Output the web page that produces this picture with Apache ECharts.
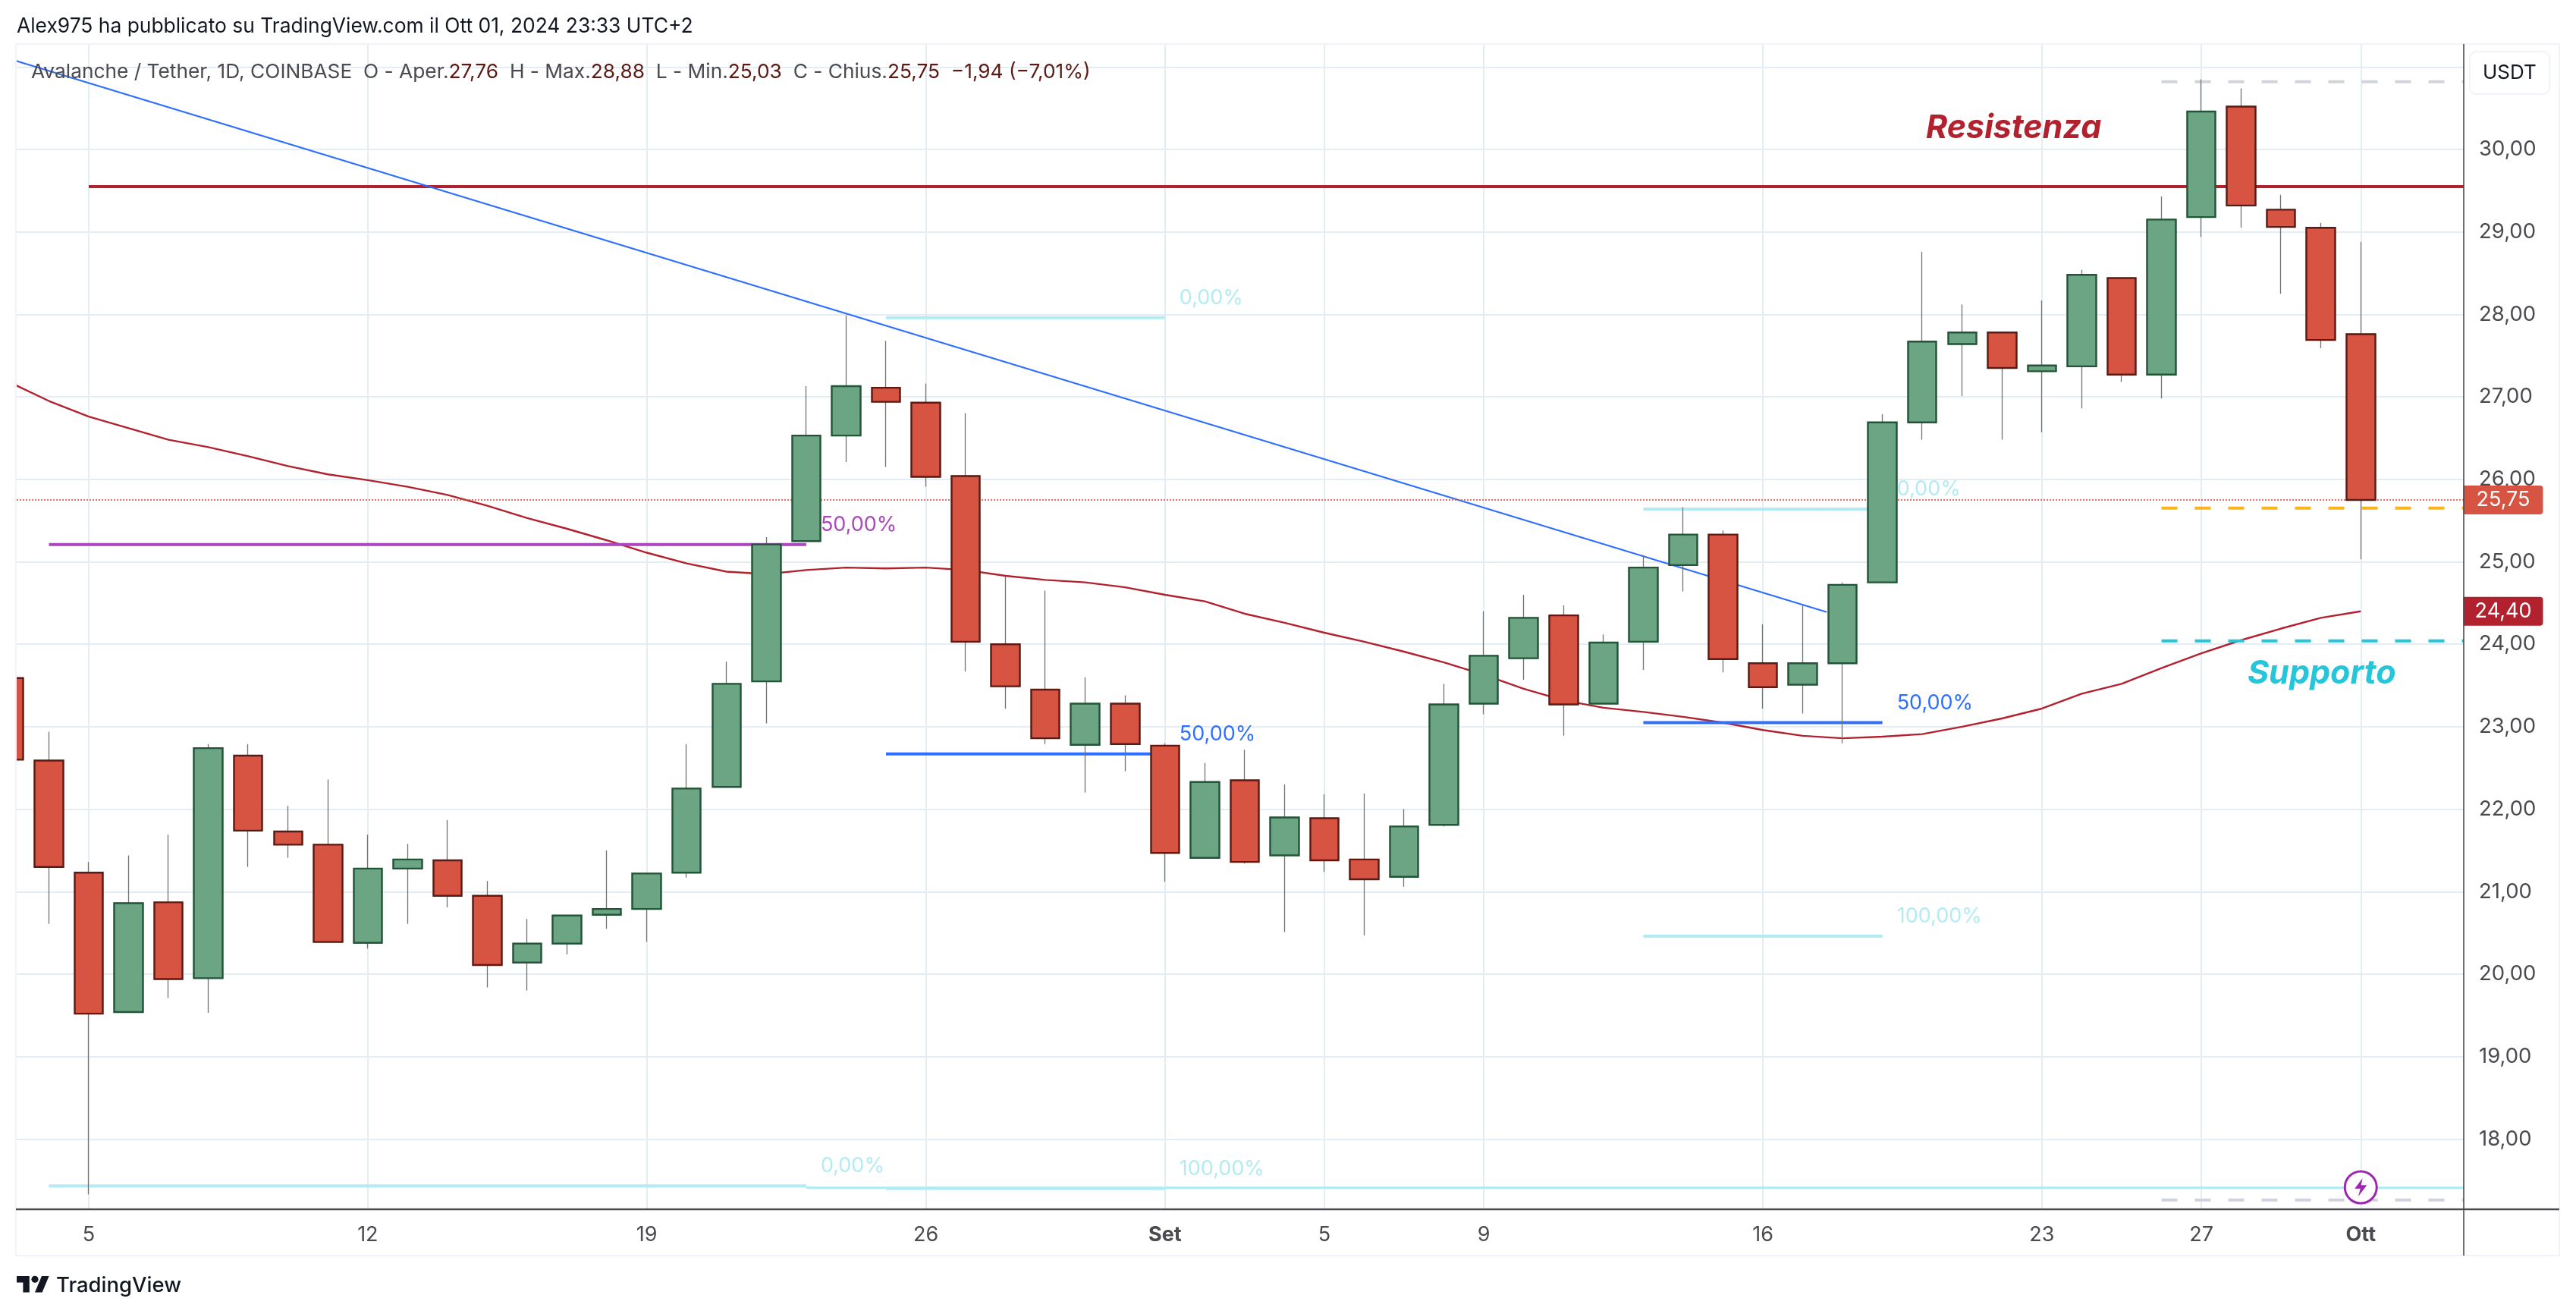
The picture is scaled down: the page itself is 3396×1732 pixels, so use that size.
<!DOCTYPE html>
<html><head><meta charset="utf-8">
<style>html,body{margin:0;padding:0;background:#fff}#c{width:3396px;height:1732px}</style>
<script src="https://cdn.jsdelivr.net/npm/echarts@6/dist/echarts.min.js"></script>
</head><body><div id="c"></div>
<script>
const dates=['2024-08-03','2024-08-04','2024-08-05','2024-08-06','2024-08-07','2024-08-08','2024-08-09','2024-08-10','2024-08-11','2024-08-12','2024-08-13','2024-08-14','2024-08-15','2024-08-16','2024-08-17','2024-08-18','2024-08-19','2024-08-20','2024-08-21','2024-08-22','2024-08-23','2024-08-24','2024-08-25','2024-08-26','2024-08-27','2024-08-28','2024-08-29','2024-08-30','2024-08-31','2024-09-01','2024-09-02','2024-09-03','2024-09-04','2024-09-05','2024-09-06','2024-09-07','2024-09-08','2024-09-09','2024-09-10','2024-09-11','2024-09-12','2024-09-13','2024-09-14','2024-09-15','2024-09-16','2024-09-17','2024-09-18','2024-09-19','2024-09-20','2024-09-21','2024-09-22','2024-09-23','2024-09-24','2024-09-25','2024-09-26','2024-09-27','2024-09-28','2024-09-29','2024-09-30','2024-10-01'];
const opens=[23.59,22.59,21.23,19.54,20.87,19.95,22.65,21.73,21.57,20.38,21.28,21.38,20.95,20.14,20.37,20.72,20.79,21.23,22.27,23.55,25.25,26.53,27.11,26.93,26.04,24.00,23.45,22.78,23.28,22.77,21.41,22.35,21.44,21.89,21.39,21.18,21.81,23.28,23.83,24.35,23.28,24.03,24.96,25.33,23.77,23.51,23.77,24.75,26.69,27.64,27.78,27.31,27.37,28.44,27.27,29.18,30.52,29.27,29.05,27.76];
const closes=[22.60,21.30,19.52,20.86,19.94,22.74,21.74,21.57,20.39,21.28,21.39,20.95,20.11,20.37,20.71,20.79,21.22,22.25,23.52,25.21,26.53,27.13,26.94,26.03,24.03,23.49,22.86,23.28,22.79,21.47,22.33,21.36,21.90,21.38,21.15,21.79,23.27,23.86,24.32,23.27,24.02,24.93,25.33,23.82,23.48,23.77,24.72,26.69,27.67,27.78,27.35,27.38,28.48,27.27,29.15,30.46,29.32,29.06,27.69,25.75];
const lows=[22.30,20.61,17.33,19.54,19.71,19.53,21.30,21.41,20.39,20.31,20.61,20.81,19.84,19.80,20.24,20.55,20.39,21.17,22.27,23.04,25.25,26.21,26.15,25.91,23.67,23.22,22.79,22.20,22.46,21.12,21.41,21.34,20.51,21.24,20.47,21.06,21.79,23.15,23.57,22.89,23.28,23.69,24.64,23.66,23.22,23.16,22.80,24.75,26.48,27.01,26.48,26.57,26.86,27.18,26.98,28.94,29.05,28.25,27.59,25.03];
const highs=[24.00,22.94,21.36,21.44,21.69,22.79,22.79,22.04,22.36,21.69,21.58,21.87,21.13,20.67,20.71,21.50,21.22,22.79,23.79,25.30,27.13,27.99,27.68,27.16,26.80,24.82,24.65,23.60,23.38,22.80,22.56,22.72,22.30,22.18,22.19,22.00,23.52,24.40,24.60,24.47,24.12,25.08,25.66,25.38,24.24,24.47,24.75,26.79,28.76,28.12,27.79,28.17,28.54,28.44,29.43,30.85,30.74,29.45,29.11,28.88];
const maValues=[27.18,26.95,26.76,26.62,26.48,26.39,26.28,26.16,26.06,25.99,25.91,25.81,25.68,25.53,25.40,25.26,25.11,24.98,24.88,24.85,24.90,24.93,24.92,24.93,24.90,24.83,24.78,24.75,24.69,24.60,24.52,24.37,24.26,24.14,24.03,23.91,23.78,23.63,23.46,23.32,23.23,23.18,23.12,23.05,22.96,22.89,22.86,22.88,22.91,23.00,23.10,23.22,23.40,23.52,23.71,23.89,24.05,24.19,24.32,24.40];
const tickDates=['2024-08-05','2024-08-12','2024-08-19','2024-08-26','2024-09-01','2024-09-05','2024-09-09','2024-09-16','2024-09-23','2024-09-27','2024-10-01'];
const tickLabels=['5','12','19','26','Set','5','9','16','23','27','Ott'];
const boldLabels=['Set','Ott'];
const priceGrid=[18,19,20,21,22,23,24,25,26,27,28,29,30,31];
const priceLabels=[18,19,20,21,22,23,24,25,26,27,28,29,30];
const xStart='2024-08-03T04:36:00Z', xEnd='2024-10-03T14:00:00Z';
const yMin=17.148, yMax=31.274;
const trendDates=['2024-08-03T00:00:00Z','2024-09-17T14:24:00Z'];
const trendPrices=[31.10,24.39];
const resistance={from:'2024-08-05',price:29.55};
const fibFrom=['2024-08-04','2024-08-04','2024-08-25','2024-08-25','2024-08-25','2024-09-13','2024-09-13','2024-09-13'];
const fibTo=['2024-08-23','2024-08-23','2024-09-01','2024-09-01','2024-09-01','2024-09-19','2024-09-19','2024-09-19'];
const fibPrice=[17.43,25.21,27.96,22.67,17.40,25.64,23.05,20.46];
const fibText=['0,00%','50,00%','0,00%','50,00%','100,00%','0,00%','50,00%','100,00%'];
const baseline={from:'2024-08-23',price:17.41};
const dashedFrom='2024-09-26';
const dashedPrices=[30.82,25.65,24.04,17.26];
const lastPrice=25.75, maLast=24.40, maLastDate='2024-10-01';
const notes=[{date:'2024-09-22T07:00:00Z',price:30.26,text:'Resistenza'},{date:'2024-09-30T00:30:00Z',price:23.64,text:'Supporto'}];
const alertPoint={date:'2024-10-01',price:17.415};

const FONT='Inter';
const T=s=>Date.parse(s.length===10?s+'T00:00:00Z':s);
const UP='#6ba583',DOWN='#d75442',UPB='#225437',DOWNB='#5b1a13',WICK='#737375',MA='#b2222e',GRID='#e3edf3',TXT='#4a4a50';
const TEAL='#b2ebf2',BLUE='#2f6fff',PURPLE='#ab47bc',CYAN='#26c6da';
const fibColor=[TEAL,PURPLE,TEAL,BLUE,TEAL,TEAL,BLUE,TEAL];
const dashColor=['#d1d4dc','#f9b51e',CYAN,'#d1d4dc'];
const tickMs=tickDates.map(T);
const wickData=dates.map((d,i)=>[T(d),opens[i],closes[i],lows[i],highs[i]]);
const bodyData=dates.map((d,i)=>[T(d),opens[i],closes[i],Math.min(opens[i],closes[i]),Math.max(opens[i],closes[i])]);
const plain=(name,data,color,width,z,extra)=>Object.assign({name,type:'line',data,symbol:'none',silent:true,animation:false,z,lineStyle:{color,width}},extra||{});
const badge=(text,bg)=>({show:true,formatter:()=>text,color:'#fff',backgroundColor:bg,fontFamily:FONT,fontSize:27,width:105,height:38,lineHeight:38,align:'center',verticalAlign:'middle',distance:0,offset:[52,0],borderRadius:[0,4,4,0]});
const money=v=>v.toFixed(2).replace('.',',');
const series=[];
series.push(plain('resistance',[[T(resistance.from),resistance.price],[T(xEnd),resistance.price]],MA,4,2));
series.push(plain('trend',trendDates.map((d,i)=>[T(d),trendPrices[i]]),'#2f6fff',2.2,2));
series.push(plain('ma',dates.map((d,i)=>[T(d),maValues[i]]),MA,2.4,2));
series.push(plain('base',[[T(baseline.from),baseline.price],[T(xEnd),baseline.price]],TEAL,3,2));
fibText.forEach((txt,i)=>{
  series.push(plain('fib'+i,[[T(fibFrom[i]),fibPrice[i]],[T(fibTo[i]),fibPrice[i]]],fibColor[i],4,2,{
    endLabel:{show:true,formatter:()=>txt,color:fibColor[i],fontFamily:FONT,fontSize:27,distance:12,offset:[7,-26]}}));
});
dashedPrices.forEach((p,i)=>series.push(plain('dash'+i,[[T(dashedFrom),p],[T(xEnd),p]],dashColor[i],4,2,{lineStyle:{color:dashColor[i],width:4,type:[21,23]}})));
series.push(plain('last',[[T(xStart),lastPrice],[T(xEnd),lastPrice]],DOWN,1.6,2,{lineStyle:{color:DOWN,width:1.6,type:[2,2]},endLabel:badge(money(lastPrice),DOWN)}));
series.push(plain('maLabel',[[T(maLastDate),maLast],[T(xEnd),maLast]],MA,1,2,{lineStyle:{color:MA,width:1,opacity:0},endLabel:badge(money(maLast),MA)}));
series.push({name:'wicks',type:'candlestick',clip:true,data:wickData,encode:{x:0,y:[1,2,3,4]},barWidth:38,animation:false,silent:true,z:3,itemStyle:{color:UP,color0:DOWN,borderColor:WICK,borderColor0:WICK,borderWidth:1.3}});
series.push({name:'bodies',type:'candlestick',clip:true,data:bodyData,encode:{x:0,y:[1,2,3,4]},barWidth:38,animation:false,silent:true,z:4,itemStyle:{color:UP,color0:DOWN,borderColor:UPB,borderColor0:DOWNB,borderWidth:2.4}});
series.push({name:'notes',type:'scatter',symbolSize:0,silent:true,animation:false,z:5,itemStyle:{opacity:1},data:notes.map(n=>({value:[T(n.date),n.price],label:{show:true,position:'inside',formatter:n.text,fontFamily:FONT,fontSize:43,fontStyle:'italic',fontWeight:'bold',opacity:1,color:n.text==='Supporto'?CYAN:MA}}))});
series.push({name:'alert',type:'scatter',symbol:'circle',symbolSize:42,silent:true,animation:false,z:6,data:[[T(alertPoint.date),alertPoint.price]],itemStyle:{color:'#fff',borderColor:'#9c27b0',borderWidth:3,opacity:1}});
series.push({name:'alertBolt',type:'scatter',symbol:'path://M13 0L2 15h8l-3 11L19 10h-8z',symbolSize:[16,24],silent:true,animation:false,z:7,data:[[T(alertPoint.date),alertPoint.price]],itemStyle:{color:'#9c27b0',opacity:1}});

const val={color:'#5b1a13'};
const LX=22,LY=1677.2,LS=1.2;
const lp=a=>a.map(([x,y])=>[LX+x*LS,LY+y*LS]);
const option={
  animation:false,backgroundColor:'#fff',
  textStyle:{fontFamily:FONT},
  title:[
    {left:22,top:22,text:'Alex975 ha pubblicato su TradingView.com il Ott 01, 2024 23:33 UTC+2',textStyle:{fontFamily:FONT,fontSize:26.4,fontWeight:'normal',color:'#131722'},padding:0},
    {left:41,top:82,padding:0,text:'{k|Avalanche / Tether, 1D, COINBASE  O - Aper.}{v|27,76}{k|  H - Max.}{v|28,88}{k|  L - Min.}{v|25,03}{k|  C - Chius.}{v|25,75}{v|  −1,94 (−7,01%)}',
     textStyle:{fontFamily:FONT,fontSize:26.3,fontWeight:'normal',rich:{k:{color:TXT,fontFamily:FONT,fontSize:26.3},v:{color:val.color,fontFamily:FONT,fontSize:26.3}}}},
    {left:3256,top:68,padding:[14,17],text:'USDT',borderColor:'#f0f3fa',borderWidth:2,borderRadius:8,backgroundColor:'#fff',textStyle:{fontFamily:FONT,fontSize:26,fontWeight:'normal',color:'#131722',lineHeight:28}}
  ],
  grid:{left:22,right:148,top:58.5,bottom:138,containLabel:false},
  xAxis:{type:'value',scale:true,min:T(xStart),max:T(xEnd),
    axisLine:{show:false},
    axisTick:{show:false,customValues:tickMs},
    splitLine:{show:true,lineStyle:{color:GRID,width:2}},
    axisLabel:{customValues:tickMs,margin:20,color:TXT,fontFamily:FONT,fontSize:27,hideOverlap:false,
      formatter:v=>{const l=tickLabels[tickMs.indexOf(v)];return boldLabels.includes(l)?'{b|'+l+'}':l;},
      rich:{b:{fontWeight:'bold',color:TXT,fontFamily:FONT,fontSize:27}}}},
  yAxis:{type:'value',position:'right',min:yMin,max:yMax,
    axisLine:{show:false},
    axisTick:{show:false,customValues:priceGrid},
    splitLine:{show:true,lineStyle:{color:GRID,width:2}},
    axisLabel:{customValues:priceLabels,margin:20,color:TXT,fontFamily:FONT,fontSize:27.5,formatter:money}},
  series,
  graphic:[
    {type:'rect',silent:true,z:15,shape:{x:0,y:58,width:21,height:1597},style:{fill:'#fff'}},
    {type:'rect',silent:true,z:16,shape:{x:21,y:58,width:3353,height:1597},style:{fill:'none',stroke:'#f0f3fa',lineWidth:2}},
    {type:'line',silent:true,z:20,shape:{x1:21,y1:1594,x2:3374,y2:1594},style:{stroke:TXT,lineWidth:2.5}},
    {type:'line',silent:true,z:20,shape:{x1:3248,y1:58,x2:3248,y2:1655},style:{stroke:TXT,lineWidth:1.6}},
    {type:'polygon',silent:true,z:20,shape:{points:lp([[0,4],[14,4],[14,22],[7,22],[7,11],[0,11]])},style:{fill:'#131722'}},
    {type:'polygon',silent:true,z:20,shape:{points:lp([[20,22],[27.5,4],[35.5,4],[28,22]])},style:{fill:'#131722'}},
    {type:'circle',silent:true,z:20,shape:{cx:LX+20*LS,cy:LY+7.5*LS,r:3.8*LS},style:{fill:'#131722'}},
    {type:'text',silent:true,z:20,x:74,y:1695,style:{text:'TradingView',fontFamily:FONT,fontSize:27.5,fontWeight:500,fill:'#131722',textVerticalAlign:'middle'}}
  ]
};
const chart=echarts.init(document.getElementById('c'),null,{renderer:'canvas',width:3396,height:1732});
chart.setOption(option);
</script></body></html>
